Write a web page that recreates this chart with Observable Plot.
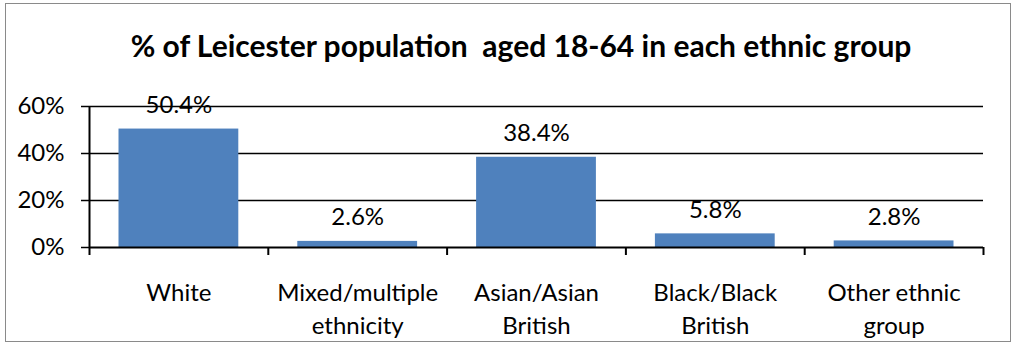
<!DOCTYPE html>
<html>
<head>
<meta charset="utf-8">
<script src="https://cdn.jsdelivr.net/npm/d3@7"></script>
<script src="https://cdn.jsdelivr.net/npm/@observablehq/plot@0.6"></script>
<style>
  html, body { margin: 0; padding: 0; background: #fff; }
  #wrap { position: relative; width: 1013px; height: 344px; overflow: hidden; font-family: Lato, "Open Sans", sans-serif; }
  #frame { position: absolute; left: 5px; top: 3px; width: 1004px; height: 337px; border: 1.5px solid #8a8a8a; }
  #title { position: absolute; left: 0; top: 26px; width: 1042px; text-align: center; font-weight: bold; font-size: 30px; line-height: 38px; color: #000; white-space: pre; }
  #chart { position: absolute; left: 0; top: 90px; }
</style>
</head>
<body>
<div id="wrap">
  <div id="frame"></div>
  <div id="title">% of Leicester population  aged 18-64 in each ethnic group</div>
  <div id="chart"></div>
</div>
<script>
const categories = ["White", "Mixed/multiple\nethnicity", "Asian/Asian\nBritish", "Black/Black\nBritish", "Other ethnic\ngroup"];
const values = [50.4, 2.6, 38.4, 5.8, 2.8];
const yTicks = [0, 20, 40, 60];

const data = categories.map((c, i) => ({i, category: c, value: values[i]}));
const boundaries = d3.range(categories.length + 1);
const centers = categories.map((c, i) => i + 0.5);

const chart = Plot.plot({
  width: 1013,
  height: 254,
  marginTop: 16,
  marginBottom: 97,
  marginLeft: 89,
  marginRight: 30,
  style: {fontFamily: "Lato, 'Open Sans', sans-serif", fontSize: "24px", color: "#000", background: "transparent", overflow: "visible"},
  x: {type: "linear", domain: [0, categories.length]},
  y: {domain: [0, 60]},
  marks: [
    Plot.gridY(yTicks.filter(d => d > 0), {stroke: "#000", strokeOpacity: 1, strokeWidth: 1.5}),
    Plot.axisY({ticks: yTicks, tickSize: 8, tickPadding: 17, tickFormat: d => d + "%", label: null, stroke: "#000", strokeWidth: 1.5, fontSize: 24}),
    Plot.rectY(data, {x1: d => d.i, x2: d => d.i + 1, y: "value", insetLeft: 29.5, insetRight: 29.5, fill: "#4f81bd"}),
    Plot.ruleX([0], {stroke: "#000", strokeWidth: 2}),
    Plot.ruleY([0], {stroke: "#000", strokeWidth: 2}),
    Plot.axisX({ticks: boundaries, tickSize: 8, tickFormat: () => "", label: null, stroke: "#000", strokeWidth: 2}),
    Plot.axisX({ticks: centers, tickSize: 0, tickPadding: 30, tickFormat: (d) => categories[Math.floor(d)], label: null, lineAnchor: "top", lineHeight: 1.38, fontSize: 24}),
    Plot.text(data, {x: d => d.i + 0.5, y: "value", text: d => d.value.toFixed(1) + "%", dy: -24, lineAnchor: "middle", fontSize: 24, fill: "#000"})
  ]
});
document.getElementById("chart").appendChild(chart);
</script>
</body>
</html>
